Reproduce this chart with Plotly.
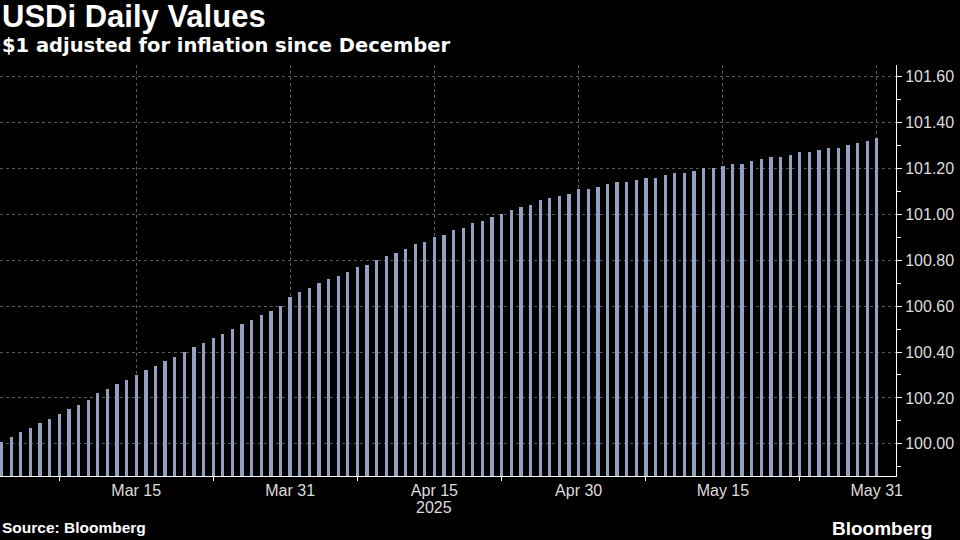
import plotly.graph_objects as go
import pandas as pd

dates = pd.date_range("2025-03-01", "2025-05-31", freq="D")
values = [
    # March
    100.01, 100.03, 100.05, 100.07, 100.09, 100.11, 100.13, 100.15, 100.17, 100.19,
    100.22, 100.24, 100.26, 100.28, 100.30, 100.32, 100.34, 100.36, 100.38, 100.40,
    100.42, 100.44, 100.46, 100.48, 100.50, 100.52, 100.54, 100.56, 100.58, 100.60,
    100.64,
    # April
    100.66, 100.68, 100.70, 100.72, 100.73, 100.75, 100.77, 100.78, 100.80, 100.82,
    100.83, 100.85, 100.87, 100.88, 100.90, 100.91, 100.93, 100.94, 100.96, 100.97,
    100.99, 101.00, 101.02, 101.03, 101.04, 101.06, 101.07, 101.08, 101.09, 101.11,
    # May
    101.11, 101.12, 101.13, 101.14, 101.14, 101.15, 101.16, 101.16, 101.17, 101.18,
    101.18, 101.19, 101.20, 101.20, 101.21, 101.22, 101.22, 101.23, 101.24, 101.25,
    101.25, 101.26, 101.27, 101.27, 101.28, 101.29, 101.29, 101.30, 101.31, 101.32,
    101.33,
]
x_ticks = ["2025-03-15", "2025-03-31", "2025-04-15", "2025-04-30", "2025-05-15", "2025-05-31"]
x_labels = ["Mar 15", "Mar 31", "Apr 15", "Apr 30", "May 15", "May 31"]
y_ticks = [100.0, 100.2, 100.4, 100.6, 100.8, 101.0, 101.2, 101.4, 101.6]

fig = go.Figure(go.Bar(x=dates, y=values, width=0.34 * 86400000,
                       marker=dict(color="#93a1c0", line=dict(width=0))))

fig.update_layout(
    width=960, height=540,
    paper_bgcolor="black", plot_bgcolor="black",
    margin=dict(l=0, r=64, t=65, b=64), showlegend=False, bargap=0,
    font=dict(family="Liberation Sans, Arial", color="white", size=16),
    xaxis=dict(
        type="date", range=["2025-02-28 20:00", "2025-06-02"],
        tickvals=x_ticks, ticktext=x_labels, ticks="", showline=True,
        linecolor="white", linewidth=1, showgrid=True, griddash="dot",
        gridcolor="#5a5a5a", gridwidth=1, tickfont=dict(size=16, color="#ddd"),
        minor=dict(tickvals=["2025-03-07", "2025-03-23", "2025-04-07", "2025-04-22",
                             "2025-05-07", "2025-05-23"],
                   ticks="outside", ticklen=4, tickcolor="white", showgrid=False),
    ),
    yaxis=dict(
        side="right", range=[99.86, 101.65], tickvals=y_ticks,
        tickformat=".2f", ticks="outside", ticklen=5, tickcolor="white",
        showline=True, linecolor="white", linewidth=1,
        showgrid=True, griddash="dot", gridcolor="#5a5a5a", zeroline=False,
        tickfont=dict(size=16, color="#ddd"),
        minor=dict(dtick=0.1, ticks="outside", ticklen=4, tickcolor="white", showgrid=False),
    ),
)

fig.add_annotation(text="<b>USDi Daily Values</b>", x=0.0, y=1.0, xref="paper", yref="paper",
                   xanchor="left", yanchor="top", showarrow=False,
                   font=dict(size=31, color="white"), yshift=68)
fig.add_annotation(text="<b>$1 adjusted for inflation since December</b>", x=0.0, y=1.0,
                   xref="paper", yref="paper", xanchor="left", yanchor="top", showarrow=False,
                   font=dict(size=19.5, color="white", family="DejaVu Sans"), yshift=33)
fig.add_annotation(text="2025", x="2025-04-15", y=0, xref="x", yref="paper", yanchor="top",
                   showarrow=False, yshift=-21, font=dict(size=16, color="#ddd"))
fig.add_annotation(text="<b>Source: Bloomberg</b>", x=0.0, y=0, xref="paper", yref="paper",
                   xanchor="left", yanchor="top", showarrow=False, yshift=-41,
                   font=dict(size=15.5, color="white"))
fig.add_annotation(text="<b>Bloomberg</b>", x=1.0, y=0, xref="paper", yref="paper",
                   xanchor="right", yanchor="top", showarrow=False, yshift=-40, xshift=38,
                   font=dict(size=19, color="white"))

fig.write_html("out.html", config={"displayModeBar": False},
               post_script="document.body.style.margin='0';document.body.style.background='black';")
